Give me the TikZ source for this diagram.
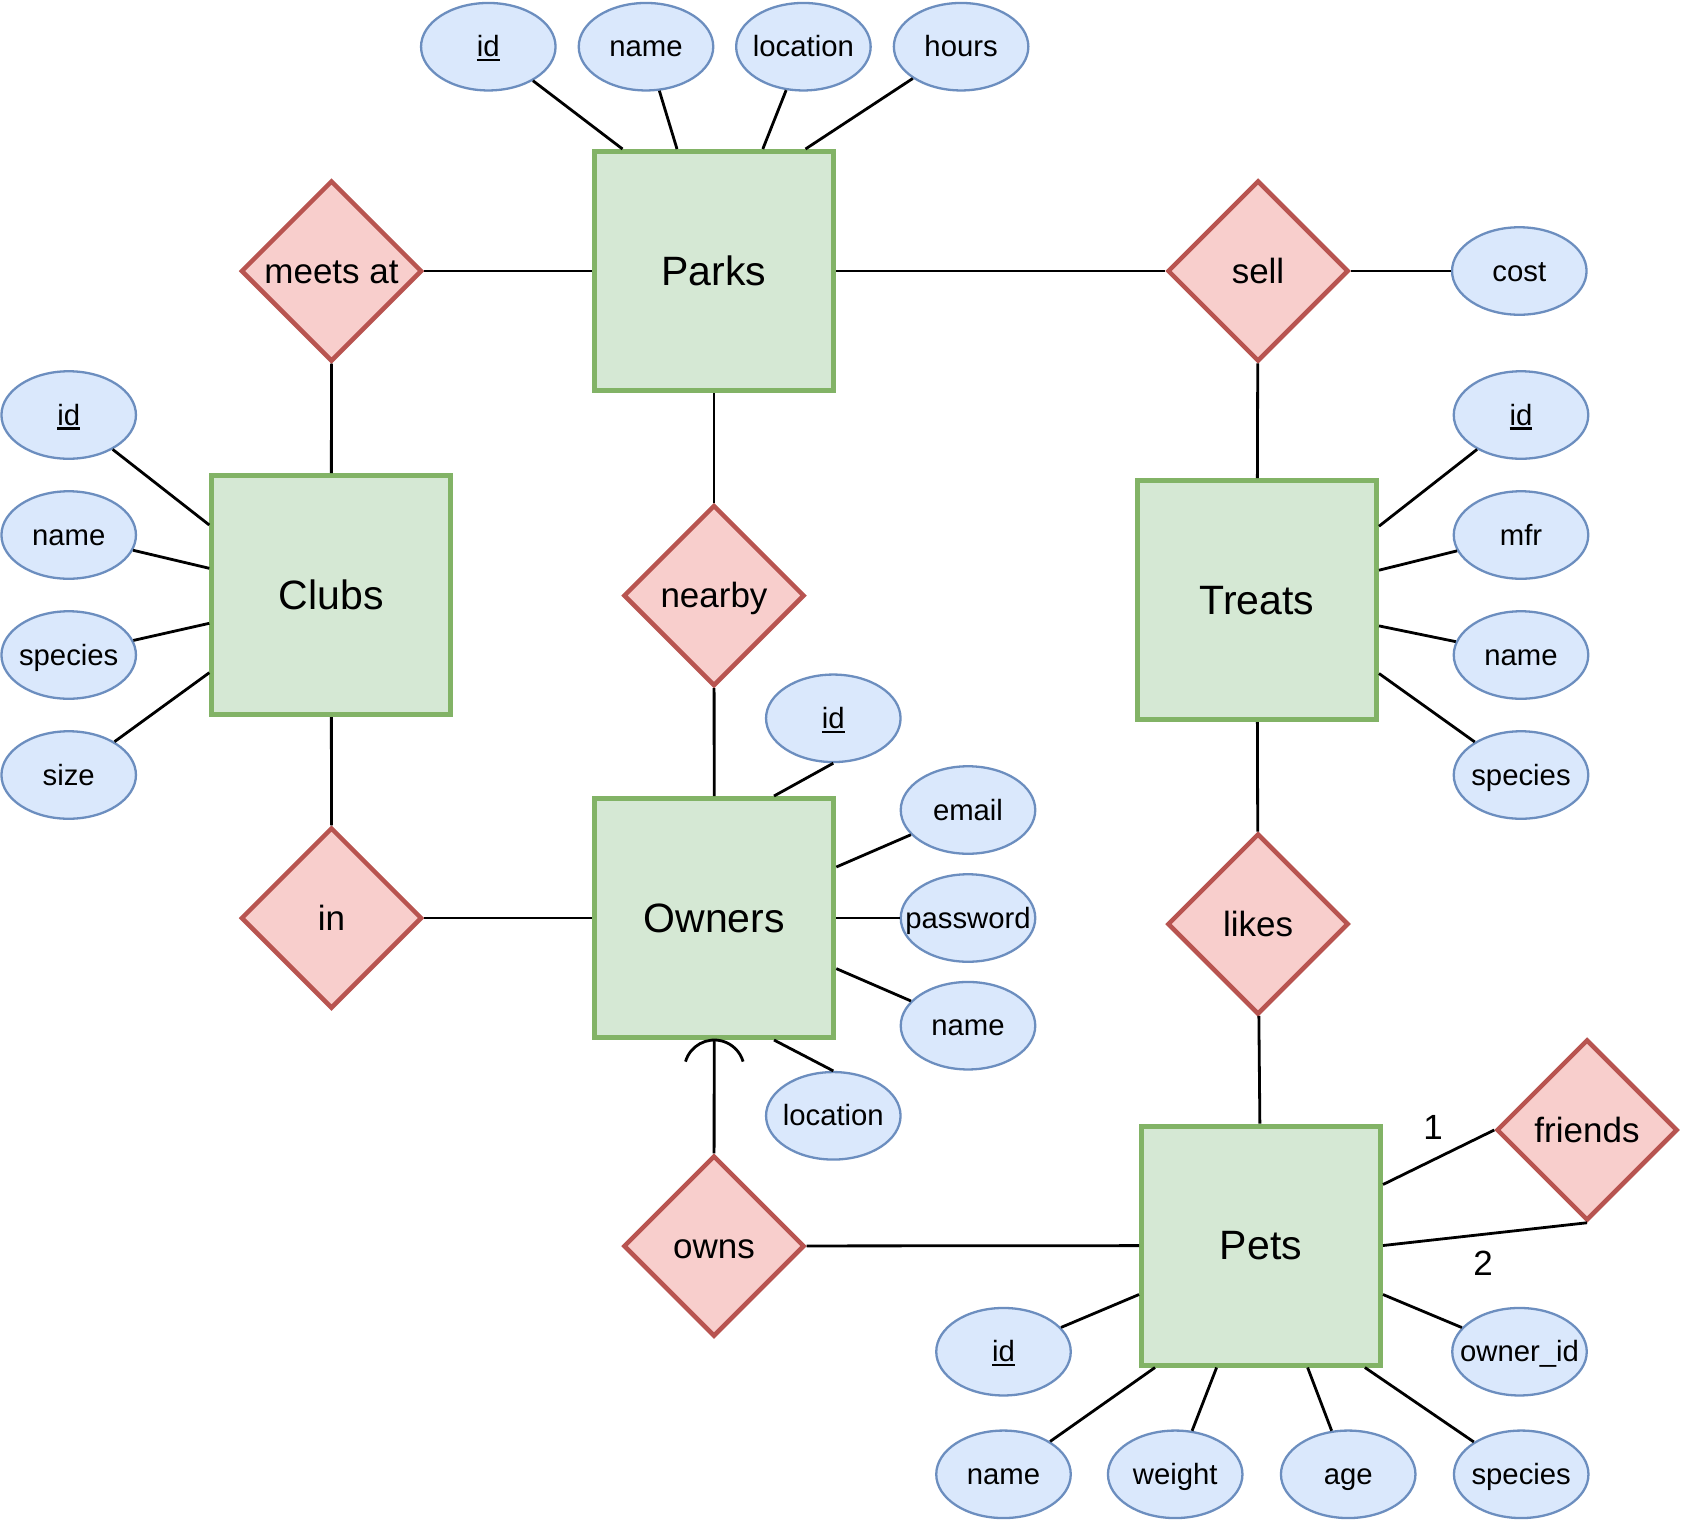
\documentclass[tikz,border=0pt]{standalone}
\usepackage{fontspec}
\setmainfont{Liberation Sans}
\usetikzlibrary{shapes.geometric,calc}

\definecolor{entfill}{HTML}{D5E8D4}
\definecolor{entline}{HTML}{82B366}
\definecolor{relfill}{HTML}{F8CECC}
\definecolor{relline}{HTML}{B85450}
\definecolor{attfill}{HTML}{DAE8FC}
\definecolor{attline}{HTML}{6C8EBF}

% underlined key attribute
\newcommand{\keyname}[1]{\setbox0=\hbox{#1}\rlap{\raisebox{-4.5pt}{\rule{\wd0}{2.3pt}}}\box0}
% attribute text that does not widen its ellipse
\newcommand{\attxt}[1]{\makebox[0pt]{#1}}

\tikzset{
  entity/.style={rectangle, draw=entline, fill=entfill, line width=5pt,
    minimum width=239pt, minimum height=239pt, inner sep=0pt,
    font=\fontsize{41}{49}\selectfont, text height=37.1pt, text depth=8.7pt},
  relation/.style={diamond, aspect=1, draw=relline, fill=relfill, line width=4.5pt,
    minimum width=181pt, minimum height=181pt, inner sep=0pt,
    font=\fontsize{35}{42}\selectfont, text height=31.7pt, text depth=7.4pt},
  attribute/.style={ellipse, draw=attline, fill=attfill, line width=2.3pt,
    minimum width=134.5pt, minimum height=87.5pt, inner sep=0pt,
    font=\fontsize{29.3}{35}\selectfont, text height=26.5pt, text depth=6.2pt},
  card/.style={inner sep=0pt, font=\fontsize{35}{42}\selectfont,
    text height=25pt, text depth=0pt},
  conn/.style={draw=black, line width=2.8pt},
}

\begin{document}
\begin{tikzpicture}[x=1pt, y=-1pt]
\path[use as bounding box, fill=white] (0,0) rectangle (1683,1524);

% entities
\node[entity] (parks)  at (714,271)    {Parks};
\node[entity] (clubs)  at (331.3,595)  {Clubs};
\node[entity] (treats) at (1257,600)   {Treats};
\node[entity] (owners) at (714.3,918)  {Owners};
\node[entity] (pets)   at (1261,1245.5) {Pets};

% relationships
\node[relation] (meets)   at (331.5,271)  {meets at};
\node[relation] (sell)    at (1258,271)   {sell};
\node[relation] (nearby)  at (714,595.5)  {nearby};
\node[relation] (in)      at (331.5,918)  {in};
\node[relation] (likes)   at (1258,924)   {likes};
\node[relation] (owns)    at (714,1246)   {owns};
\node[relation] (friends) at (1587,1130)  {friends};

% attributes of Parks
\node[attribute] (pid)    at (488.3,46.7) {\attxt{\keyname{id}}};
\node[attribute] (pname)  at (646,46.7)   {\attxt{name}};
\node[attribute] (ploc)   at (803.4,46.7) {\attxt{location}};
\node[attribute] (phours) at (961.1,46.7) {\attxt{hours}};

% attribute of sell
\node[attribute] (cost) at (1519.3,271) {\attxt{cost}};

% attributes of Clubs
\node[attribute] (cid)      at (68.7,415) {\attxt{\keyname{id}}};
\node[attribute] (cname)    at (68.7,535) {\attxt{name}};
\node[attribute] (cspecies) at (68.7,655) {\attxt{species}};
\node[attribute] (csize)    at (68.7,775) {\attxt{size}};

% attributes of Treats
\node[attribute] (tid)      at (1521,415) {\attxt{\keyname{id}}};
\node[attribute] (tmfr)     at (1521,535) {\attxt{mfr}};
\node[attribute] (tname)    at (1521,655) {\attxt{name}};
\node[attribute] (tspecies) at (1521,775) {\attxt{species}};

% attributes of Owners
\node[attribute] (oid)    at (833.3,718.3)  {\attxt{\keyname{id}}};
\node[attribute] (oemail) at (968,810)      {\attxt{email}};
\node[attribute] (opass)  at (968,918)      {\attxt{password}};
\node[attribute] (oname)  at (968,1025.7)   {\attxt{name}};
\node[attribute] (oloc)   at (833.3,1115.8) {\attxt{location}};

% attributes of Pets
\node[attribute] (eid)      at (1003.5,1351.7) {\attxt{\keyname{id}}};
\node[attribute] (eowner)   at (1519.5,1351.7) {\attxt{owner\_id}};
\node[attribute] (ename)    at (1003.5,1474.3) {\attxt{name}};
\node[attribute] (eweight)  at (1175.2,1474.3) {\attxt{weight}};
\node[attribute] (eage)     at (1348.2,1474.3) {\attxt{age}};
\node[attribute] (especies) at (1521.2,1474.3) {\attxt{species}};

% cardinality labels of friends
\node[card] (one) at (1433,1127) {1};
\node[card] (two) at (1483,1263) {2};

% relationship connectors
\draw[conn] (meets) -- (parks);
\draw[conn] (parks) -- (sell);
\draw[conn] (sell) -- (cost);
\draw[conn] (sell) -- (treats);
\draw[conn] (meets) -- (clubs);
\draw[conn] (parks) -- (nearby);
\draw[conn] (nearby) -- (owners);
\draw[conn] (clubs) -- (in);
\draw[conn] (in) -- (owners);
\draw[conn] (treats) -- (likes);
\draw[conn] (likes) -- (pets);
\draw[conn] (owns) -- (owners);
\draw[conn] (owns) -- (pets);
\draw[conn] ($(pets.east)+(0,-61)$) -- (friends.west);
\draw[conn] (pets.east) -- (friends.south);

% half-circle mark where owns meets Owners
\coordinate (arcc) at ($(owners.south)+(0,30)$);
\draw[conn] ($(arcc)+(163.7:30pt)$) arc[start angle=163.7, end angle=16.3, radius=30pt];

% Parks attributes
\draw[conn] (pid)    -- ($(parks.north)+(-91.5,0)$);
\draw[conn] (pname)  -- ($(parks.north)+(-37,0)$);
\draw[conn] (ploc)   -- ($(parks.north)+(48.8,0)$);
\draw[conn] (phours) -- ($(parks.north)+(91.5,0)$);

% Clubs attributes
\draw[conn] (cid)      -- ($(clubs.west)+(0,-70)$);
\draw[conn] (cname)    -- ($(clubs.west)+(0,-26.7)$);
\draw[conn] (cspecies) -- ($(clubs.west)+(0,28.3)$);
\draw[conn] (csize)    -- ($(clubs.west)+(0,77.7)$);

% Treats attributes
\draw[conn] (tid)      -- ($(treats.east)+(0,-73.8)$);
\draw[conn] (tmfr)     -- ($(treats.east)+(0,-29.8)$);
\draw[conn] (tname)    -- ($(treats.east)+(0,25.9)$);
\draw[conn] (tspecies) -- ($(treats.east)+(0,73.5)$);

% Owners attributes
\draw[conn] (oid.south) -- ($(owners.north)+(59.7,0)$);
\draw[conn] (oemail) -- ($(owners.east)+(0,-51)$);
\draw[conn] (opass)  -- (owners.east);
\draw[conn] (oname)  -- ($(owners.east)+(0,50.6)$);
\draw[conn] (oloc.north) -- ($(owners.south)+(59.7,0)$);

% Pets attributes
\draw[conn] (eid)      -- ($(pets.west)+(0,49)$);
\draw[conn] (eowner)   -- ($(pets.east)+(0,49)$);
\draw[conn] (ename)    -- ($(pets.south)+(-106,0)$);
\draw[conn] (eweight)  -- ($(pets.south)+(-44.4,0)$);
\draw[conn] (eage)     -- ($(pets.south)+(46.6,0)$);
\draw[conn] (especies) -- ($(pets.south)+(103.9,0)$);
\end{tikzpicture}
\end{document}
